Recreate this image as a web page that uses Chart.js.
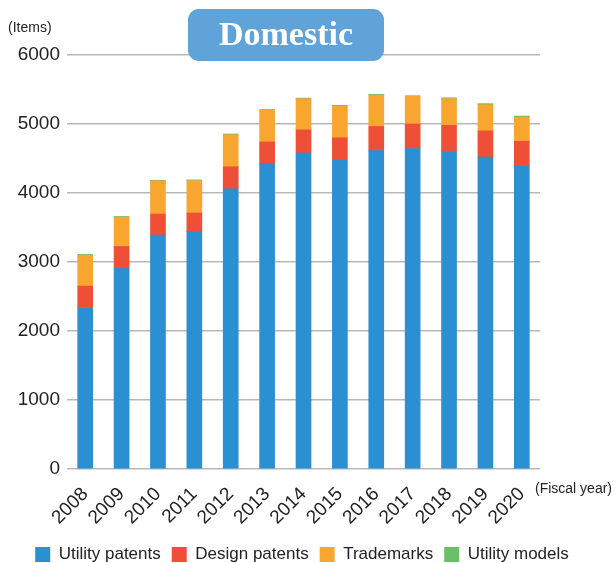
<!DOCTYPE html>
<html>
<head>
<meta charset="utf-8">
<title>Domestic</title>
<style>
  body { margin: 0; background: #fff; }
  #wrap { width: 616px; height: 563px; }
</style>
</head>
<body>
<div id="wrap"><canvas id="myChart" width="616" height="563"></canvas></div>

<script src="https://cdn.jsdelivr.net/npm/chart.js@4.4.0/dist/chart.umd.min.js"></script>
<script>
// fiscal years and item counts per type
var years = ['2008', '2009', '2010', '2011', '2012', '2013', '2014', '2015', '2016', '2017', '2018', '2019', '2020'];
var utilityPatents = [2340, 2910, 3390, 3440, 4060, 4420, 4580, 4475, 4615, 4645, 4600, 4520, 4385];
var designPatents  = [310, 315, 305, 270, 320, 320, 335, 325, 350, 355, 380, 380, 365];
var trademarks     = [450, 425, 480, 470, 465, 460, 450, 455, 455, 400, 390, 380, 350];
var utilityModels  = [10, 10, 10, 10, 10, 10, 10, 15, 10, 10, 10, 15, 15];
var yTicks = [0, 1000, 2000, 3000, 4000, 5000, 6000];

var font = "'Liberation Sans', Arial, Helvetica, sans-serif";

// title box, unit labels
var extras = {
  id: 'extras',
  afterDraw: function (chart) {
    var c = chart.ctx;
    c.save();
    c.fillStyle = '#222';
    c.font = '14px ' + font;
    c.textBaseline = 'middle';
    c.textAlign = 'left';
    c.fillText('(Items)', 8, 28);
    c.fillText('(Fiscal year)', 535, 489);

    var x = 188, y = 9, w = 196, h = 52, r = 11;
    c.fillStyle = '#5fa3d9';
    c.beginPath();
    c.roundRect(x, y, w, h, r);
    c.fill();
    c.fillStyle = '#fff';
    c.font = "bold 34px 'Liberation Serif', 'Times New Roman', serif";
    c.textAlign = 'center';
    c.fillText('Domestic', x + w / 2, y + h / 2 + 1);
    c.restore();
  }
};

function ds(label, data, color) {
  return { label: label, data: data, backgroundColor: color, borderWidth: 0, barThickness: 15 };
}

var ctx = document.getElementById('myChart').getContext('2d');
var myChart = new Chart(ctx, {
  type: 'bar',
  data: {
    labels: years,
    datasets: [
      ds('Utility patents', utilityPatents, '#2b90d1'),
      ds('Design patents', designPatents, '#ef4e37'),
      ds('Trademarks', trademarks, '#f9a631'),
      ds('Utility models', utilityModels, '#6cbe68')
    ]
  },
  options: {
    responsive: false,
    animation: false,
    layout: { padding: { top: 55, right: 12, left: 0, bottom: -10 } },
    plugins: {
      tooltip: { enabled: false },
      legend: {
        position: 'bottom',
        labels: {
          boxWidth: 15, boxHeight: 15, padding: 11,
          color: '#222',
          font: { family: font, size: 17 }
        }
      }
    },
    scales: {
      x: {
        stacked: true,
        grid: { display: false },
        border: { display: false },
        ticks: {
          color: '#222',
          font: { family: font, size: 19 },
          autoSkip: false,
          minRotation: 45, maxRotation: 45, padding: 6
        }
      },
      y: {
        stacked: true,
        min: 0, max: 6000,
        afterBuildTicks: function (axis) {
          axis.ticks = yTicks.map(function (v) { return { value: v }; });
        },
        afterFit: function (axis) { axis.width = 67; },
        grid: { color: '#b8b8b8', lineWidth: 1.5, drawTicks: false },
        border: { display: false },
        ticks: {
          color: '#222',
          font: { family: font, size: 19 },
          padding: 7,
          callback: function (v) { return String(v); }
        }
      },
      // empty axis only to keep room for "(Fiscal year)" on the right
      yRight: {
        position: 'right',
        grid: { display: false },
        border: { display: false },
        ticks: { display: false },
        afterFit: function (axis) { axis.width = 64; }
      }
    }
  },
  plugins: [extras]
});
</script>
</body>
</html>
